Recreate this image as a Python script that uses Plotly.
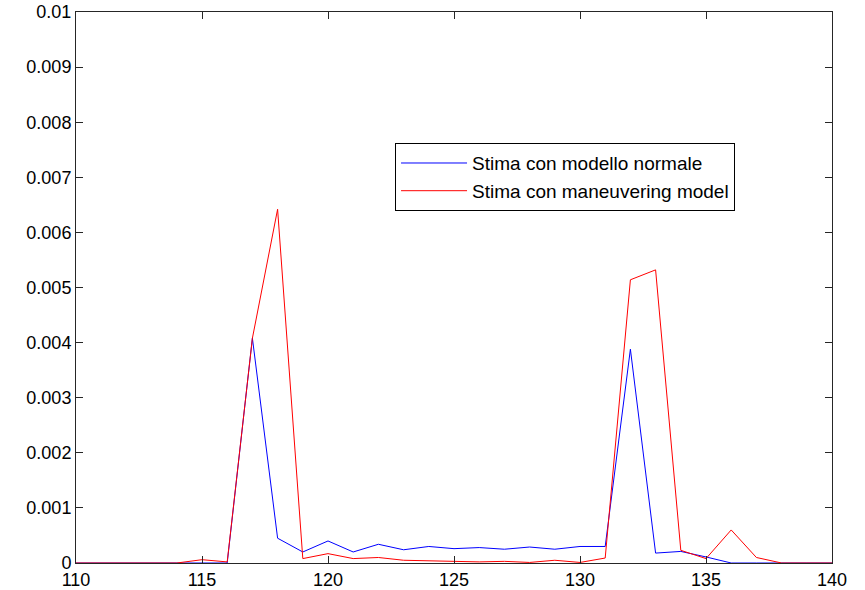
import plotly.graph_objects as go

x_vals = list(range(110, 141))
stima_normale = [0, 0, 0, 0, 0, 0, 0, 0.00408, 0.00045, 0.0002, 0.0004,
                 0.0002, 0.00034, 0.00024, 0.0003, 0.00026, 0.00028, 0.00025, 0.00029, 0.00025, 0.0003,
                 0.0003, 0.00388, 0.00018, 0.00021, 0.00011, 0, 0, 0, 0, 0]
stima_maneuvering = [0, 0, 0, 0, 0, 0.00006, 0.00002, 0.00408, 0.00642, 0.00008, 0.00017,
                     0.00008, 0.0001, 0.00005, 0.00004, 0.00003, 0.00002, 0.00003, 0.00001, 0.00005, 0.00001,
                     0.00009, 0.00514, 0.00532, 0.00023, 0.00008, 0.0006, 0.0001, 0, 0, 0]
x_ticks = [110, 115, 120, 125, 130, 135, 140]
y_ticks = [0, 0.001, 0.002, 0.003, 0.004, 0.005, 0.006, 0.007, 0.008, 0.009, 0.01]
y_tick_labels = ["0", "0.001", "0.002", "0.003", "0.004", "0.005", "0.006", "0.007", "0.008", "0.009", "0.01"]

fig = go.Figure()
fig.add_trace(go.Scatter(x=x_vals, y=stima_normale, mode="lines",
                         line=dict(color="#0000ff", width=1),
                         name="Stima con modello normale"))
fig.add_trace(go.Scatter(x=x_vals, y=stima_maneuvering, mode="lines",
                         line=dict(color="#ff0000", width=1),
                         name="Stima con maneuvering model"))

axis_common = dict(showgrid=False, zeroline=False, showline=True, linecolor="#262626",
                   linewidth=1, mirror="ticks", ticks="inside", ticklen=7,
                   tickcolor="#262626", automargin=False,
                   tickfont=dict(family="Liberation Sans, Arial", size=18, color="#000"))
fig.update_xaxes(range=[110, 140], tickvals=x_ticks, **axis_common)
fig.update_yaxes(range=[0, 0.01], tickvals=y_ticks, ticktext=y_tick_labels, **axis_common)

fig.update_layout(
    width=865, height=590,
    margin=dict(l=76, r=33, t=12, b=27),
    paper_bgcolor="white", plot_bgcolor="white",
    showlegend=True,
    legend=dict(x=0.422, y=0.762, xanchor="left", yanchor="top",
                bgcolor="white", bordercolor="#000", borderwidth=1,
                font=dict(family="Liberation Sans, Arial", size=19, color="#000"),
                itemwidth=66, tracegroupgap=0),
)
fig.write_html("out.html", config={"displayModeBar": False},
               post_script="document.body.style.margin='0';")
